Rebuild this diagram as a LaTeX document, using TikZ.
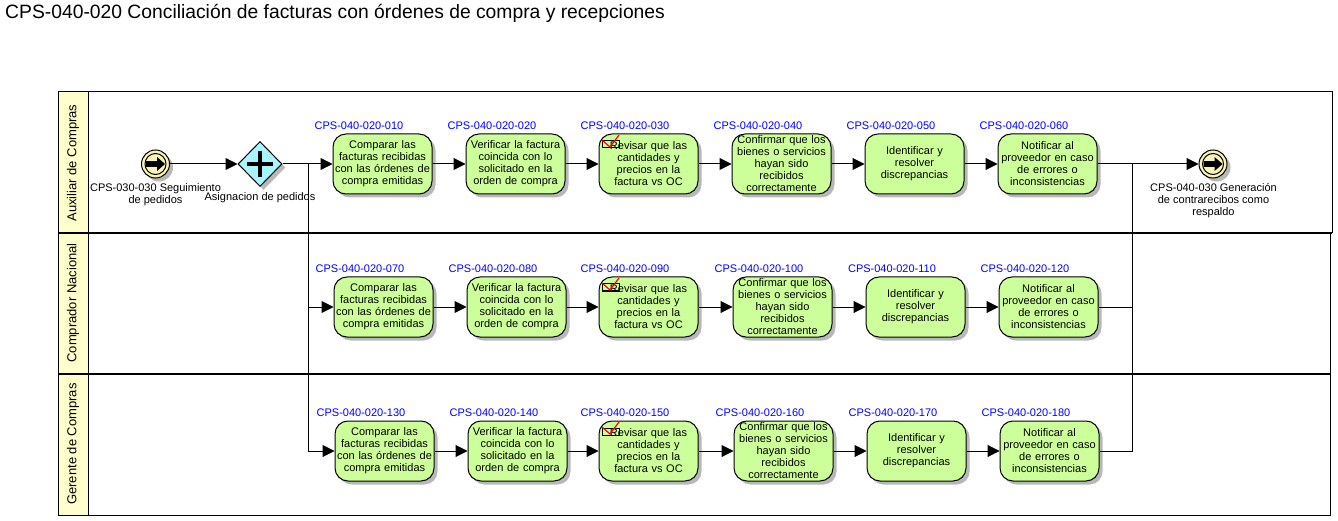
\documentclass[tikz,border=0pt]{standalone}
\usepackage{fontspec}
\setmainfont{Liberation Sans}
\usepackage{xcolor}
\usetikzlibrary{arrows.meta,shapes.geometric,shadows}

\definecolor{poolyellow}{HTML}{FFFFCC}
\definecolor{taskgreen}{HTML}{CCFF99}
\definecolor{gateblue}{HTML}{A6F5FF}
\definecolor{eventcream}{HTML}{F8F4B8}
\definecolor{idblue}{HTML}{0000FF}

\tikzset{
  grayshadow/.style={drop shadow={shadow xshift=3.5pt,shadow yshift=-3.5pt,fill=black!35,opacity=.8}},
  task/.style={draw,line width=1pt,rounded corners=13pt,fill=taskgreen,minimum width=99pt,minimum height=60pt,
    text width=98pt,align=center,inner sep=0pt,font=\fontsize{11}{12}\selectfont,grayshadow},
  idlabel/.style={text=idblue,inner sep=0pt,font=\fontsize{11}{12}\selectfont},
  evlabel/.style={inner sep=0pt,align=center,font=\fontsize{11}{12}\selectfont},
  lanelabel/.style={rotate=90,inner sep=0pt,font=\fontsize{13}{14}\selectfont},
  event/.style={draw,line width=1pt,circle,minimum size=28pt,inner sep=0pt,fill=eventcream,grayshadow},
  gateway/.style={draw,line width=1pt,diamond,minimum width=44pt,minimum height=45pt,inner sep=0pt,fill=gateblue,grayshadow},
  flow/.style={line width=1pt,-{Triangle[length=12pt,width=12pt]}},
  plainflow/.style={line width=1pt},
}

% flecha negra dentro del evento
\newcommand{\linkarrow}[1]{
  \draw[line width=1pt] (#1) circle(10.5);
  \fill[shift={(#1)}] (-9.5,-2.8) -- (1.5,-2.8) -- (1.5,-7) -- (9.5,0) -- (1.5,7) -- (1.5,2.8) -- (-9.5,2.8) -- cycle;
}

% sobre con la palomita roja
\newcommand{\reviewmark}[1]{
  \draw[line width=1pt,shift={(#1)}] (0,0) rectangle (17,7);
  \draw[line width=1.2pt,red,shift={(#1)}] (0,-1) -- (8,6) -- (17,-6);
}

\begin{document}
\begin{tikzpicture}[x=1pt,y=-1pt]

\useasboundingbox (0,0) rectangle (1338,521);

% carriles
\draw[line width=1pt,fill=poolyellow] (58,92) rectangle (88,233);
\draw[line width=1pt,fill=poolyellow] (58,233) rectangle (88,374);
\draw[line width=1pt,fill=poolyellow] (58,374) rectangle (88,515);
\draw[line width=1pt] (88,92) rectangle (1332,233);
\draw[line width=1pt] (88,233) rectangle (1330,374);
\draw[line width=1pt] (88,374) rectangle (1330,515);
\draw[line width=2pt] (58,233) -- (1332,233);
\draw[line width=2pt] (58,374) -- (1330,374);

\node[anchor=west,inner sep=0pt,font=\fontsize{19.3}{21}\selectfont] (title) at (5,13.5) {CPS-040-020 Conciliación de facturas con órdenes de compra y recepciones};

\node[lanelabel] (lane1) at (73,163) {Auxiliar de Compras};
\node[lanelabel] (lane2) at (73,303) {Comprador Nacional};
\node[lanelabel] (lane3) at (73,444) {Gerente de Compras};

% eventos y compuerta
\node[event] (start) at (155.5,164) {};
\linkarrow{155.5,164}
\node[event] (end) at (1213,164) {};
\linkarrow{1213,164}
\node[gateway] (gate) at (260,164) {};
\draw[line width=3.4pt] (247,164) -- (273,164);
\draw[line width=3.4pt] (260,151) -- (260,177);

\node[evlabel] (startlabel) at (155.5,195) {CPS-030-030 Seguimiento\\de pedidos};
\node[evlabel] (gatelabel) at (260,198) {Asignacion de pedidos};
\node[evlabel] (endlabel) at (1213.5,201) {CPS-040-030 Generación\\de contrarecibos como\\respaldo};

% fila 1
\node[task] (t010) at (382.5,164) {Comparar las\\facturas recibidas\\con las órdenes de\\compra emitidas};
\node[task] (t020) at (515.5,164) {Verificar la factura\\coincida con lo\\solicitado en la\\orden de compra};
\node[task] (t030) at (648.5,164) {Revisar que las\\cantidades y\\precios en la\\factura vs OC};
\node[task] (t040) at (781.5,164) {Confirmar que los\\bienes o servicios\\hayan sido\\recibidos\\correctamente};
\node[task] (t050) at (914.5,164) {Identificar y\\resolver\\discrepancias};
\node[task] (t060) at (1047.5,164) {Notificar al\\proveedor en caso\\de errores o\\inconsistencias};
\reviewmark{602,141}

\node[idlabel] (l010) at (359,126) {CPS-040-020-010};
\node[idlabel] (l020) at (492,126) {CPS-040-020-020};
\node[idlabel] (l030) at (625,126) {CPS-040-020-030};
\node[idlabel] (l040) at (758,126) {CPS-040-020-040};
\node[idlabel] (l050) at (891,126) {CPS-040-020-050};
\node[idlabel] (l060) at (1024,126) {CPS-040-020-060};

% fila 2
\node[task] (t070) at (383.5,307) {Comparar las\\facturas recibidas\\con las órdenes de\\compra emitidas};
\node[task] (t080) at (516.5,307) {Verificar la factura\\coincida con lo\\solicitado en la\\orden de compra};
\node[task] (t090) at (648.5,307) {Revisar que las\\cantidades y\\precios en la\\factura vs OC};
\node[task] (t100) at (782.5,307) {Confirmar que los\\bienes o servicios\\hayan sido\\recibidos\\correctamente};
\node[task] (t110) at (915.5,307) {Identificar y\\resolver\\discrepancias};
\node[task] (t120) at (1048.5,307) {Notificar al\\proveedor en caso\\de errores o\\inconsistencias};
\reviewmark{602,284}

\node[idlabel] (l070) at (360,269) {CPS-040-020-070};
\node[idlabel] (l080) at (493,269) {CPS-040-020-080};
\node[idlabel] (l090) at (625,269) {CPS-040-020-090};
\node[idlabel] (l100) at (759,269) {CPS-040-020-100};
\node[idlabel] (l110) at (892,269) {CPS-040-020-110};
\node[idlabel] (l120) at (1025,269) {CPS-040-020-120};

% fila 3
\node[task] (t130) at (384.5,451) {Comparar las\\facturas recibidas\\con las órdenes de\\compra emitidas};
\node[task] (t140) at (517.5,451) {Verificar la factura\\coincida con lo\\solicitado en la\\orden de compra};
\node[task] (t150) at (648.5,451) {Revisar que las\\cantidades y\\precios en la\\factura vs OC};
\node[task] (t160) at (783.5,451) {Confirmar que los\\bienes o servicios\\hayan sido\\recibidos\\correctamente};
\node[task] (t170) at (916.5,451) {Identificar y\\resolver\\discrepancias};
\node[task] (t180) at (1049.5,451) {Notificar al\\proveedor en caso\\de errores o\\inconsistencias};
\reviewmark{602,428}

\node[idlabel] (l130) at (361,413) {CPS-040-020-130};
\node[idlabel] (l140) at (494,413) {CPS-040-020-140};
\node[idlabel] (l150) at (625,413) {CPS-040-020-150};
\node[idlabel] (l160) at (760,413) {CPS-040-020-160};
\node[idlabel] (l170) at (893,413) {CPS-040-020-170};
\node[idlabel] (l180) at (1026,413) {CPS-040-020-180};

% conectores
\coordinate (splitin) at (308,164);
\coordinate (joinout) at (1132,164);

\draw[flow] (start) -- (gate);
\draw[flow] (gate) -- (t010);
\draw[flow] (t010) -- (t020);
\draw[flow] (t020) -- (t030);
\draw[flow] (t030) -- (t040);
\draw[flow] (t040) -- (t050);
\draw[flow] (t050) -- (t060);
\draw[flow] (t060) -- (end);

\draw[flow] (t070) -- (t080);
\draw[flow] (t080) -- (t090);
\draw[flow] (t090) -- (t100);
\draw[flow] (t100) -- (t110);
\draw[flow] (t110) -- (t120);

\draw[flow] (t130) -- (t140);
\draw[flow] (t140) -- (t150);
\draw[flow] (t150) -- (t160);
\draw[flow] (t160) -- (t170);
\draw[flow] (t170) -- (t180);

\draw[flow] (splitin) |- (t070);
\draw[flow] (splitin) |- (t130);
\draw[plainflow] (t120) -| (joinout);
\draw[plainflow] (t180) -| (joinout);

\end{tikzpicture}
\end{document}
